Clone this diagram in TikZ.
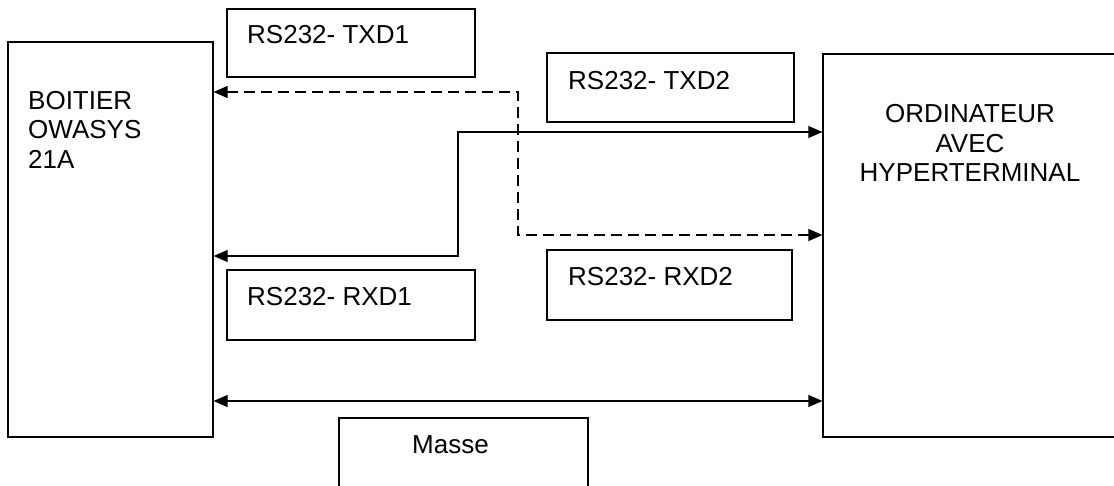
\documentclass[tikz,border=0pt]{standalone}
\usepackage{fontspec}
\setmainfont{Liberation Sans}
\usetikzlibrary{arrows.meta}
\begin{document}
\begin{tikzpicture}[x=1pt,y=-1pt,
  box/.style={draw=black, line width=1.2pt, rectangle, inner sep=0pt},
  lbl/.style={inner sep=0pt, font=\fontsize{26}{29.5}\selectfont},
  conn/.style={line width=1.2pt, {Triangle[length=14pt,width=12pt]}-{Triangle[length=14pt,width=12pt]}},
  dashline/.style={dash pattern=on 11pt off 6pt}
]
\useasboundingbox (0,0) rectangle (1114,485);
% main boxes
\node[box, minimum width=205pt, minimum height=395pt] (L) at (110.5,239.5) {};
\node[box, minimum width=294pt, minimum height=383pt] (R) at (970,245.5) {};
\node[lbl, anchor=west, align=left] (Lt) at (28,129.5) {BOITIER\\OWASYS\\21A};
\node[lbl, align=center] (Rt) at (970,143) {ORDINATEUR\\AVEC\\HYPERTERMINAL};
% label boxes
\node[box, minimum width=248pt, minimum height=68pt] (tx1) at (351,43) {};
\node[lbl, anchor=west] (tx1t) at (247,35) {RS232- TXD1};
\node[box, minimum width=247pt, minimum height=69pt] (tx2) at (670.5,87.5) {};
\node[lbl, anchor=west] (tx2t) at (568,81) {RS232- TXD2};
\node[box, minimum width=248pt, minimum height=70pt] (rx1) at (351,305) {};
\node[lbl, anchor=west] (rx1t) at (247,297) {RS232- RXD1};
\node[box, minimum width=245pt, minimum height=70pt] (rx2) at (669.5,285) {};
\node[lbl, anchor=west] (rx2t) at (568,277) {RS232- RXD2};
\node[box, minimum width=249pt, minimum height=102pt] (ms) at (463.5,469) {};
\node[lbl, anchor=west] (mst) at (412,445) {Masse};
% bend points
\coordinate (dA) at (518,92);
\coordinate (dB) at (518,235);
\coordinate (sA) at (458,132);
\coordinate (sB) at (458,256);
\coordinate (m) at (500,401);
% connectors
\draw[conn, dashline] (L.east |- dA) -- (dA) -- (dB) -- (R.west |- dB);
\draw[conn] (L.east |- sB) -- (sB) -- (sA) -- (R.west |- sA);
\draw[conn] (L.east |- m) -- (R.west |- m);
\end{tikzpicture}
\end{document}
